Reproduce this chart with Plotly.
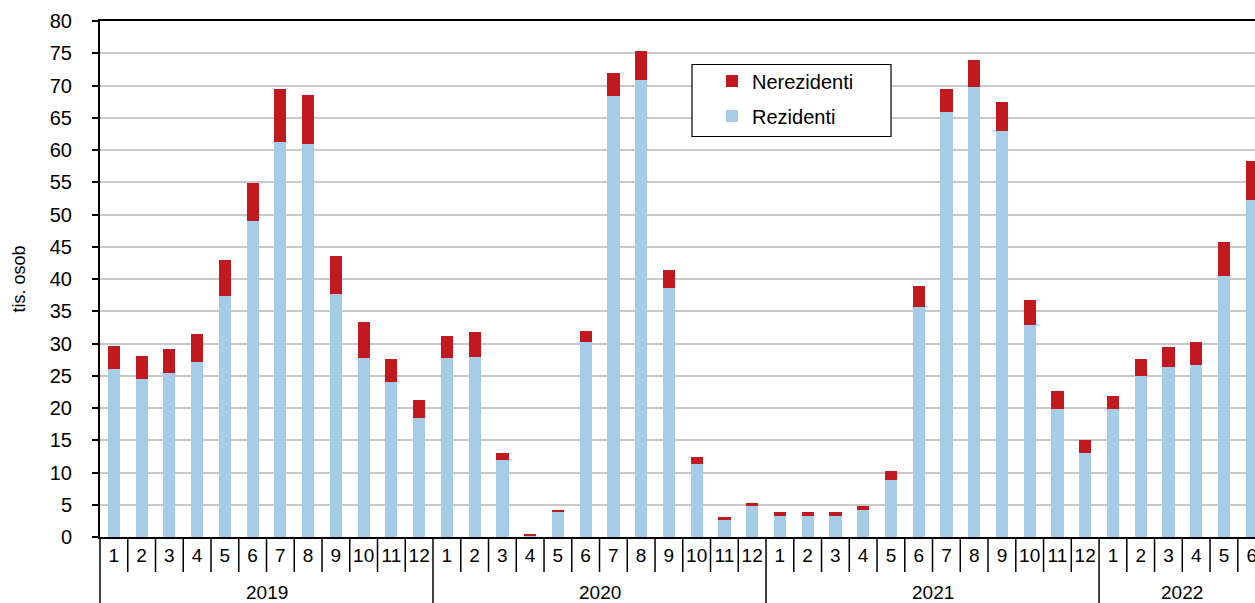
import plotly.graph_objects as go

years = ["2019"] * 12 + ["2020"] * 12 + ["2021"] * 12 + ["2022"] * 6
months = [str(m) for m in range(1, 13)] * 3 + [str(m) for m in range(1, 7)]
year_names = ["2019", "2020", "2021", "2022"]

rezidenti = [26.1, 24.5, 25.4, 27.1, 37.4, 49.0, 61.3, 61.0, 37.6, 27.8, 24.0, 18.4,
             27.7, 27.9, 11.9, 0.3, 4.0, 30.2, 68.3, 70.9, 38.6, 11.3, 2.7, 4.8,
             3.3, 3.3, 3.3, 4.2, 8.9, 35.6, 65.9, 69.7, 63.0, 32.9, 19.8, 13.1,
             19.8, 25.0, 26.3, 26.7, 40.4, 52.3]
nerezidenti = [3.5, 3.6, 3.8, 4.3, 5.6, 5.9, 8.1, 7.6, 5.9, 5.5, 3.6, 2.8,
               3.4, 3.9, 1.1, 0.2, 0.2, 1.7, 3.7, 4.4, 2.8, 1.1, 0.4, 0.5,
               0.5, 0.6, 0.6, 0.6, 1.4, 3.3, 3.6, 4.3, 4.4, 3.9, 2.9, 1.9,
               2.1, 2.6, 3.2, 3.6, 5.4, 6.0]
yticks = list(range(0, 85, 5))

categories = [f"{y}-{m}" for y, m in zip(years, months)]

FONT = "Liberation Sans, Arial, sans-serif"
RED = "#C0191F"
BLUE = "#A6CDE7"

fig = go.Figure()
fig.add_trace(go.Bar(x=categories, y=rezidenti, name="Rezidenti",
                     marker=dict(color=BLUE, line=dict(width=0)),
                     legendgroup="r", legendrank=2))
fig.add_trace(go.Bar(x=categories, y=nerezidenti, name="Nerezidenti",
                     marker=dict(color=RED, line=dict(width=0)),
                     legendgroup="n", legendrank=1))

n = len(categories)
shapes = []
for k in range(n):
    new_year = (k == 0) or (years[k] != years[k - 1])
    if k == 0:
        shapes.append(dict(type="line", xref="paper", yref="paper", ysizemode="pixel",
                           yanchor=0, x0=0, x1=0, y0=0, y1=-75,
                           line=dict(color="black", width=1.5), layer="above"))
        continue
    shapes.append(dict(type="line", xref="x", yref="paper", ysizemode="pixel",
                       yanchor=0, x0=k - 0.5, x1=k - 0.5, y0=0,
                       y1=-75 if new_year else -35,
                       line=dict(color="black", width=1.5), layer="above"))

# legend frame
shapes.append(dict(type="rect", xref="paper", yref="paper",
                   x0=(692 - 100) / 1155, x1=(891 - 100) / 1155,
                   y0=(536.5 - 136) / 516, y1=(536.5 - 64) / 516,
                   line=dict(color="black", width=1.2), fillcolor="white", layer="above"))

annotations = []
for yname in year_names:
    idx = [i for i, y in enumerate(years) if y == yname]
    center = (idx[0] + idx[-1]) / 2
    annotations.append(dict(x=center, y=0, xref="x", yref="paper", text=yname,
                            showarrow=False, yanchor="middle", xanchor="center",
                            yshift=-55.5, font=dict(family=FONT, size=19, color="black")))

fig.update_layout(
    width=1255, height=603,
    margin=dict(l=100, r=0, t=21, b=66, pad=0, autoexpand=False),
    paper_bgcolor="white", plot_bgcolor="white",
    barmode="stack", bargap=0.56,
    font=dict(family=FONT, size=19, color="black"),
    shapes=shapes, annotations=annotations,
    showlegend=True,
    legend=dict(x=(712 - 100) / 1155, y=(536.5 - 61) / 516, xanchor="left", yanchor="top",
                traceorder="grouped", tracegroupgap=6,
                borderwidth=0, bgcolor="rgba(0,0,0,0)",
                font=dict(family=FONT, size=20, color="black")),
)
fig.update_xaxes(type="category", range=[-0.5, n - 0.88],
                 tickmode="array", tickvals=categories, ticktext=months,
                 showline=True, linecolor="black", linewidth=2, mirror=True,
                 ticks="", tickangle=0, automargin=False,
                 showgrid=False, tickfont=dict(size=19))
fig.update_yaxes(range=[0, 80], tickvals=yticks, ticks="outside", ticklen=6,
                 tickcolor="black", tickwidth=1.5, automargin=False,
                 showline=True, linecolor="black", linewidth=2,
                 showgrid=True, gridcolor="#C9C9C9", gridwidth=1.5,
                 ticklabelstandoff=16, tickfont=dict(size=20),
                 title=dict(text="tis. osob", font=dict(size=18), standoff=19),
                 zeroline=False)

fig.write_html("out.html", config={"displayModeBar": False},
               post_script="document.body.style.margin='0';document.body.style.overflow='hidden';")
